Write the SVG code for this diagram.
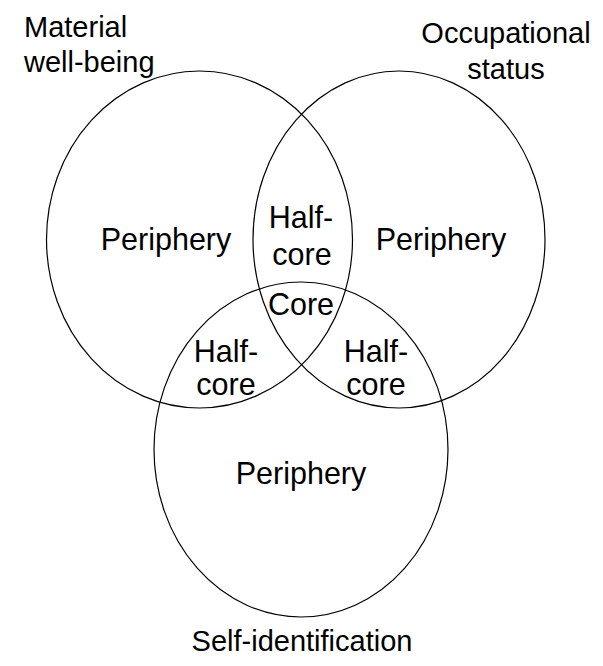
<svg xmlns="http://www.w3.org/2000/svg" width="603" height="666" viewBox="0 0 603 666">
<style>
.c{fill:none;stroke:#000;stroke-width:1.2}
text{font-family:"Liberation Sans",Arial,sans-serif;font-size:29px;fill:#000}
.m{text-anchor:middle}
.i{font-size:30.5px}
</style>
<rect width="603" height="666" fill="#fff"/>
<g id="connectors"></g>
<g id="material">
<ellipse class="c" cx="199.5" cy="239.5" rx="153" ry="168.5"/>
<text x="24" y="37">Material</text>
<text x="24" y="72">well-being</text>
<text class="m i" x="166" y="250">Periphery</text>
</g>
<g id="occupational">
<ellipse class="c" cx="399" cy="239.5" rx="146" ry="168.5"/>
<text class="m" x="506" y="43">Occupational</text>
<text class="m" x="506" y="79">status</text>
<text class="m i" x="441" y="250">Periphery</text>
</g>
<g id="self">
<ellipse class="c" cx="301" cy="449.5" rx="147" ry="167.5"/>
<text class="m i" x="301" y="484">Periphery</text>
<text class="m" x="302" y="651">Self-identification</text>
</g>
<g id="halfcore-top">
<text class="m i" x="301" y="228">Half-</text>
<text class="m i" x="302" y="265">core</text>
</g>
<g id="core">
<text class="m i" x="301" y="315">Core</text>
</g>
<g id="halfcore-left">
<text class="m i" x="226" y="362">Half-</text>
<text class="m i" x="226" y="395">core</text>
</g>
<g id="halfcore-right">
<text class="m i" x="376" y="362">Half-</text>
<text class="m i" x="376" y="395">core</text>
</g>
</svg>
